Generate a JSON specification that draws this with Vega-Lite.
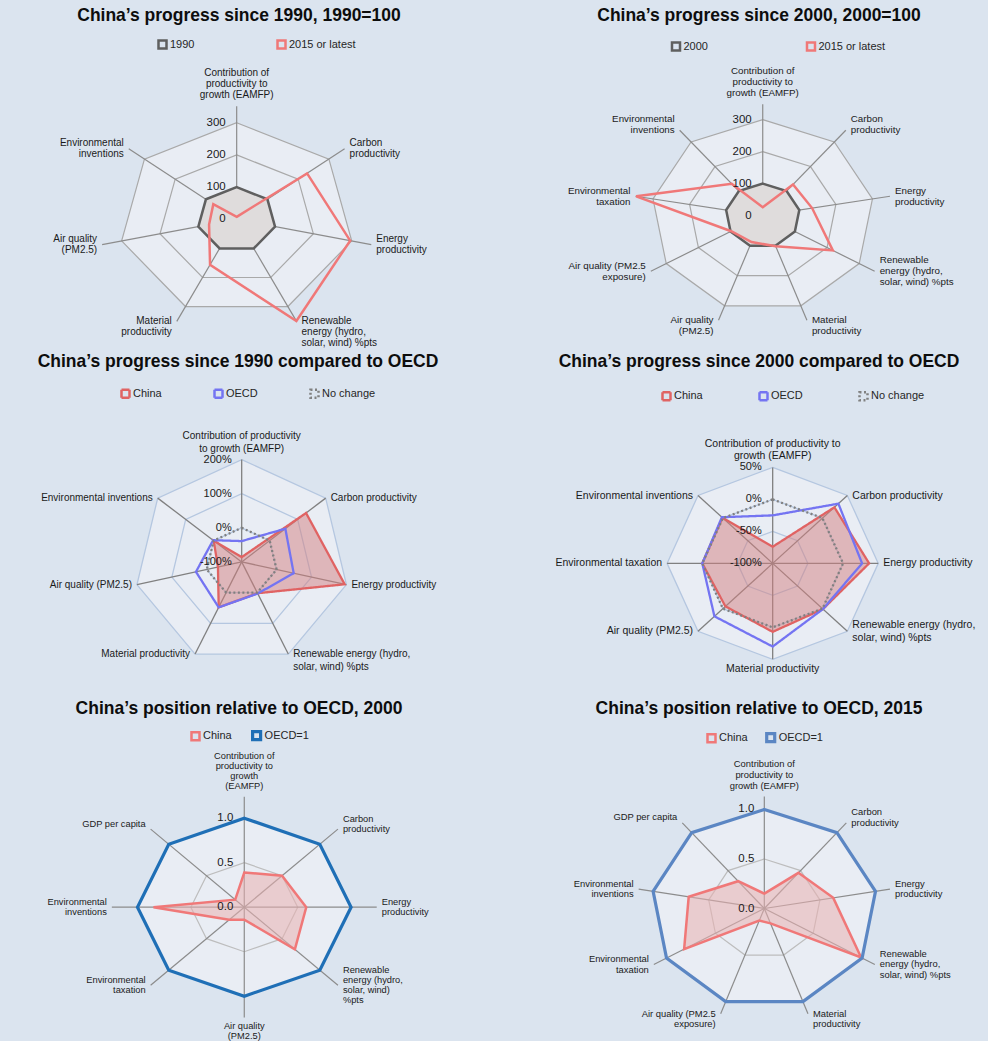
{
"$schema":"https://vega.github.io/schema/vega-lite/v6.json",
"background":"#dbe4ef",
"padding":{"top":6.3,"left":0,"right":0,"bottom":0},
"spacing":0,
"config":{
 "view":{"stroke":null},
 "concat":{"spacing":0},
 "title":{"font":"Liberation Sans","fontSize":17.5,"fontWeight":"bold","color":"#0d0d0d","anchor":"middle","frame":"group","offset":1},
 "text":{"font":"Liberation Sans","color":"#1a1a1a"},
 "legend":{"orient":"none","direction":"horizontal","labelFont":"Liberation Sans","labelFontSize":11,"labelColor":"#262626","symbolType":"square","symbolSize":64,"symbolStrokeWidth":2.5,"padding":0,"labelOffset":2}
},
"resolve":{"scale":{"color":"independent","strokeDash":"independent","strokeWidth":"independent"},"legend":{"color":"independent","strokeDash":"independent"}},
"datasets":{
 "a1":[{"i":0,"label":"Contribution of\nproductivity to\ngrowth (EAMFP)"},{"i":1,"label":"Carbon\nproductivity"},{"i":2,"label":"Energy\nproductivity"},{"i":3,"label":"Renewable\nenergy (hydro,\nsolar, wind) %pts"},{"i":4,"label":"Material\nproductivity"},{"i":5,"label":"Air quality\n(PM2.5)"},{"i":6,"label":"Environmental\ninventions"}],
 "s1":[{"s":"1990","i":0,"v":100},{"s":"1990","i":1,"v":100},{"s":"1990","i":2,"v":100},{"s":"1990","i":3,"v":100},{"s":"1990","i":4,"v":100},{"s":"1990","i":5,"v":100},{"s":"1990","i":6,"v":100},
  {"s":"2015 or latest","i":0,"v":8},{"s":"2015 or latest","i":1,"v":229},{"s":"2015 or latest","i":2,"v":296},{"s":"2015 or latest","i":3,"v":350},{"s":"2015 or latest","i":4,"v":156},{"s":"2015 or latest","i":5,"v":72},{"s":"2015 or latest","i":6,"v":76}],
 "g1":[{"g":100,"i":0},{"g":100,"i":1},{"g":100,"i":2},{"g":100,"i":3},{"g":100,"i":4},{"g":100,"i":5},{"g":100,"i":6},
  {"g":200,"i":0},{"g":200,"i":1},{"g":200,"i":2},{"g":200,"i":3},{"g":200,"i":4},{"g":200,"i":5},{"g":200,"i":6},
  {"g":300,"i":0},{"g":300,"i":1},{"g":300,"i":2},{"g":300,"i":3},{"g":300,"i":4},{"g":300,"i":5},{"g":300,"i":6}],
 "t1":[{"g":0},{"g":100},{"g":200},{"g":300}],
 "a2":[{"i":0,"label":"Contribution of\nproductivity to\ngrowth (EAMFP)"},{"i":1,"label":"Carbon\nproductivity"},{"i":2,"label":"Energy\nproductivity"},{"i":3,"label":"Renewable\nenergy (hydro,\nsolar, wind) %pts"},{"i":4,"label":"Material\nproductivity"},{"i":5,"label":"Air quality\n(PM2.5)"},{"i":6,"label":"Air quality (PM2.5\nexposure)"},{"i":7,"label":"Environmental\ntaxation"},{"i":8,"label":"Environmental\ninventions"}],
 "s2":[{"s":"2000","i":0,"v":100},{"s":"2000","i":1,"v":100},{"s":"2000","i":2,"v":100},{"s":"2000","i":3,"v":100},{"s":"2000","i":4,"v":100},{"s":"2000","i":5,"v":100},{"s":"2000","i":6,"v":100},{"s":"2000","i":7,"v":100},{"s":"2000","i":8,"v":100},
  {"s":"2015 or latest","i":0,"v":26},{"s":"2015 or latest","i":1,"v":127},{"s":"2015 or latest","i":2,"v":135},{"s":"2015 or latest","i":3,"v":218},{"s":"2015 or latest","i":4,"v":102},{"s":"2015 or latest","i":5,"v":88},{"s":"2015 or latest","i":6,"v":98},{"s":"2015 or latest","i":7,"v":346},{"s":"2015 or latest","i":8,"v":130}],
 "g2":[{"g":100,"i":0},{"g":100,"i":1},{"g":100,"i":2},{"g":100,"i":3},{"g":100,"i":4},{"g":100,"i":5},{"g":100,"i":6},{"g":100,"i":7},{"g":100,"i":8},
  {"g":200,"i":0},{"g":200,"i":1},{"g":200,"i":2},{"g":200,"i":3},{"g":200,"i":4},{"g":200,"i":5},{"g":200,"i":6},{"g":200,"i":7},{"g":200,"i":8},
  {"g":300,"i":0},{"g":300,"i":1},{"g":300,"i":2},{"g":300,"i":3},{"g":300,"i":4},{"g":300,"i":5},{"g":300,"i":6},{"g":300,"i":7},{"g":300,"i":8}],
 "t2":[{"g":0},{"g":100},{"g":200},{"g":300}],
 "a3":[{"i":0,"label":"Contribution of productivity\nto growth (EAMFP)"},{"i":1,"label":"Carbon productivity"},{"i":2,"label":"Energy productivity"},{"i":3,"label":"Renewable energy (hydro,\nsolar, wind) %pts"},{"i":4,"label":"Material productivity"},{"i":5,"label":"Air quality (PM2.5)"},{"i":6,"label":"Environmental inventions"}],
 "s3":[{"s":"China","i":0,"v":-86},{"s":"China","i":1,"v":130},{"s":"China","i":2,"v":195},{"s":"China","i":3,"v":2},{"s":"China","i":4,"v":48},{"s":"China","i":5,"v":-32},{"s":"China","i":6,"v":0},
  {"s":"OECD","i":0,"v":-39},{"s":"OECD","i":1,"v":56},{"s":"OECD","i":2,"v":49},{"s":"OECD","i":3,"v":3},{"s":"OECD","i":4,"v":48},{"s":"OECD","i":5,"v":31},{"s":"OECD","i":6,"v":2},
  {"s":"No change","i":0,"v":0},{"s":"No change","i":1,"v":0},{"s":"No change","i":2,"v":0},{"s":"No change","i":3,"v":0},{"s":"No change","i":4,"v":0},{"s":"No change","i":5,"v":0},{"s":"No change","i":6,"v":0}],
 "g3":[{"g":0,"i":0},{"g":0,"i":1},{"g":0,"i":2},{"g":0,"i":3},{"g":0,"i":4},{"g":0,"i":5},{"g":0,"i":6},
  {"g":100,"i":0},{"g":100,"i":1},{"g":100,"i":2},{"g":100,"i":3},{"g":100,"i":4},{"g":100,"i":5},{"g":100,"i":6},
  {"g":200,"i":0},{"g":200,"i":1},{"g":200,"i":2},{"g":200,"i":3},{"g":200,"i":4},{"g":200,"i":5},{"g":200,"i":6}],
 "t3":[{"g":-100},{"g":0},{"g":100},{"g":200}],
 "a4":[{"i":0,"label":"Contribution of productivity to\ngrowth (EAMFP)"},{"i":1,"label":"Carbon productivity"},{"i":2,"label":"Energy productivity"},{"i":3,"label":"Renewable energy (hydro,\nsolar, wind) %pts"},{"i":4,"label":"Material productivity"},{"i":5,"label":"Air quality (PM2.5)"},{"i":6,"label":"Environmental taxation"},{"i":7,"label":"Environmental inventions"}],
 "s4":[{"s":"China","i":0,"v":-74},{"s":"China","i":1,"v":24},{"s":"China","i":2,"v":37},{"s":"China","i":3,"v":1},{"s":"China","i":4,"v":7},{"s":"China","i":5,"v":-5},{"s":"China","i":6,"v":0},{"s":"China","i":7,"v":1},
  {"s":"OECD","i":0,"v":-25},{"s":"OECD","i":1,"v":32},{"s":"OECD","i":2,"v":27},{"s":"OECD","i":3,"v":1},{"s":"OECD","i":4,"v":30},{"s":"OECD","i":5,"v":17},{"s":"OECD","i":6,"v":0},{"s":"OECD","i":7,"v":2},
  {"s":"No change","i":0,"v":0},{"s":"No change","i":1,"v":0},{"s":"No change","i":2,"v":0},{"s":"No change","i":3,"v":0},{"s":"No change","i":4,"v":0},{"s":"No change","i":5,"v":0},{"s":"No change","i":6,"v":0},{"s":"No change","i":7,"v":0}],
 "g4":[{"g":-50,"i":0},{"g":-50,"i":1},{"g":-50,"i":2},{"g":-50,"i":3},{"g":-50,"i":4},{"g":-50,"i":5},{"g":-50,"i":6},{"g":-50,"i":7},
  {"g":0,"i":0},{"g":0,"i":1},{"g":0,"i":2},{"g":0,"i":3},{"g":0,"i":4},{"g":0,"i":5},{"g":0,"i":6},{"g":0,"i":7},
  {"g":50,"i":0},{"g":50,"i":1},{"g":50,"i":2},{"g":50,"i":3},{"g":50,"i":4},{"g":50,"i":5},{"g":50,"i":6},{"g":50,"i":7}],
 "t4":[{"g":-100},{"g":-50},{"g":0},{"g":50}],
 "a5":[{"i":0,"label":"Contribution of\nproductivity to\ngrowth\n(EAMFP)"},{"i":1,"label":"Carbon\nproductivity"},{"i":2,"label":"Energy\nproductivity"},{"i":3,"label":"Renewable\nenergy (hydro,\nsolar, wind)\n%pts"},{"i":4,"label":"Air quality\n(PM2.5)"},{"i":5,"label":"Environmental\ntaxation"},{"i":6,"label":"Environmental\ninventions"},{"i":7,"label":"GDP per capita"}],
 "s5":[{"s":"China","i":0,"v":0.39},{"s":"China","i":1,"v":0.5},{"s":"China","i":2,"v":0.58},{"s":"China","i":3,"v":0.67},{"s":"China","i":4,"v":0.14},{"s":"China","i":5,"v":0.2},{"s":"China","i":6,"v":0.85},{"s":"China","i":7,"v":0.12},
  {"s":"OECD=1","i":0,"v":1},{"s":"OECD=1","i":1,"v":1},{"s":"OECD=1","i":2,"v":1},{"s":"OECD=1","i":3,"v":1},{"s":"OECD=1","i":4,"v":1},{"s":"OECD=1","i":5,"v":1},{"s":"OECD=1","i":6,"v":1},{"s":"OECD=1","i":7,"v":1}],
 "g5":[{"g":0.5,"i":0},{"g":0.5,"i":1},{"g":0.5,"i":2},{"g":0.5,"i":3},{"g":0.5,"i":4},{"g":0.5,"i":5},{"g":0.5,"i":6},{"g":0.5,"i":7},
  {"g":1,"i":0},{"g":1,"i":1},{"g":1,"i":2},{"g":1,"i":3},{"g":1,"i":4},{"g":1,"i":5},{"g":1,"i":6},{"g":1,"i":7}],
 "t5":[{"g":0},{"g":0.5},{"g":1}],
 "a6":[{"i":0,"label":"Contribution of\nproductivity to\ngrowth (EAMFP)"},{"i":1,"label":"Carbon\nproductivity"},{"i":2,"label":"Energy\nproductivity"},{"i":3,"label":"Renewable\nenergy (hydro,\nsolar, wind) %pts"},{"i":4,"label":"Material\nproductivity"},{"i":5,"label":"Air quality (PM2.5\nexposure)"},{"i":6,"label":"Environmental\ntaxation"},{"i":7,"label":"Environmental\ninventions"},{"i":8,"label":"GDP per capita"}],
 "s6":[{"s":"China","i":0,"v":0.15},{"s":"China","i":1,"v":0.47},{"s":"China","i":2,"v":0.62},{"s":"China","i":3,"v":0.99},{"s":"China","i":4,"v":0.16},{"s":"China","i":5,"v":0.13},{"s":"China","i":6,"v":0.82},{"s":"China","i":7,"v":0.68},{"s":"China","i":8,"v":0.36},
  {"s":"OECD=1","i":0,"v":1},{"s":"OECD=1","i":1,"v":1},{"s":"OECD=1","i":2,"v":1},{"s":"OECD=1","i":3,"v":1},{"s":"OECD=1","i":4,"v":1},{"s":"OECD=1","i":5,"v":1},{"s":"OECD=1","i":6,"v":1},{"s":"OECD=1","i":7,"v":1},{"s":"OECD=1","i":8,"v":1}],
 "g6":[{"g":0.5,"i":0},{"g":0.5,"i":1},{"g":0.5,"i":2},{"g":0.5,"i":3},{"g":0.5,"i":4},{"g":0.5,"i":5},{"g":0.5,"i":6},{"g":0.5,"i":7},{"g":0.5,"i":8},
  {"g":1,"i":0},{"g":1,"i":1},{"g":1,"i":2},{"g":1,"i":3},{"g":1,"i":4},{"g":1,"i":5},{"g":1,"i":6},{"g":1,"i":7},{"g":1,"i":8}],
 "t6":[{"g":0},{"g":0.5},{"g":1}]
},
"vconcat":[
{"hconcat":[
 {"width":494,"height":326.6,
  "title":{"text":"China’s progress since 1990, 1990=100","dx":-8},
  "encoding":{"x":{"field":"x","type":"quantitative","scale":{"domain":[-2.006,2.181],"nice":false,"zero":false},"axis":null},
              "y":{"field":"y","type":"quantitative","scale":{"domain":[-1.370,2.007],"nice":false,"zero":false},"axis":null}},
  "layer":[
   {"data":{"name":"g1"},"transform":[{"filter":"datum.g==300"},{"calculate":"datum.g/300*sin(2*PI*datum.i/7)","as":"x"},{"calculate":"datum.g/300*cos(2*PI*datum.i/7)","as":"y"}],
    "mark":{"type":"line","interpolate":"linear-closed","fill":"#e9edf4","strokeWidth":0},"encoding":{"order":{"field":"i"}}},
   {"data":{"name":"g1"},"transform":[{"calculate":"datum.g/300*sin(2*PI*datum.i/7)","as":"x"},{"calculate":"datum.g/300*cos(2*PI*datum.i/7)","as":"y"}],
    "mark":{"type":"line","interpolate":"linear-closed","stroke":"#a9a9a9","strokeWidth":1.2},"encoding":{"order":{"field":"i"},"detail":{"field":"g"}}},
   {"data":{"name":"a1"},"transform":[{"calculate":"1.17*sin(2*PI*datum.i/7)","as":"x"},{"calculate":"1.17*cos(2*PI*datum.i/7)","as":"y"}],
    "mark":{"type":"rule","stroke":"#8c8c8c","strokeWidth":1.2},"encoding":{"x2":{"datum":0},"y2":{"datum":0}}},
   {"data":{"name":"s1"},"transform":[{"filter":"datum.s=='1990'"},{"calculate":"datum.v/300*sin(2*PI*datum.i/7)","as":"x"},{"calculate":"datum.v/300*cos(2*PI*datum.i/7)","as":"y"}],
    "mark":{"type":"line","interpolate":"linear-closed","fill":"#dfdcdc","strokeWidth":0},"encoding":{"order":{"field":"i"}}},
   {"data":{"name":"s1"},"transform":[{"calculate":"datum.v/300*sin(2*PI*datum.i/7)","as":"x"},{"calculate":"datum.v/300*cos(2*PI*datum.i/7)","as":"y"}],
    "mark":{"type":"line","interpolate":"linear-closed","strokeWidth":2.5},
    "encoding":{"order":{"field":"i"},"color":{"field":"s","type":"nominal","scale":{"domain":["1990","2015 or latest"],"range":["#5f5f5f","#f07878"]},"legend":{"title":null,"orient":"none","legendX":157,"legendY":13.5,"columnPadding":77}}}},
   {"data":{"name":"t1"},"transform":[{"calculate":"0","as":"x"},{"calculate":"datum.g/300","as":"y"}],
    "mark":{"type":"text","align":"right","baseline":"middle","dx":-11,"fontSize":11.5},"encoding":{"text":{"field":"g","type":"quantitative","format":"d"}}},
   {"data":{"name":"a1"},"transform":[{"calculate":"sin(2*PI*datum.i/7)","as":"sx"},{"calculate":"cos(2*PI*datum.i/7)","as":"cx"},{"calculate":"length(replace(datum.label,/[^\\n]/g,''))","as":"nl"},{"filter":"datum.sx>0.05"},{"calculate":"1.17*datum.sx","as":"x"},{"calculate":"1.17*datum.cx+(datum.cx>0.7?datum.nl:datum.cx<-0.8?0:datum.nl/2)*0.1138","as":"y"}],
    "mark":{"type":"text","align":"left","baseline":"middle","dx":5,"fontSize":10,"lineHeight":11,"lineBreak":"\n"},"encoding":{"text":{"field":"label","type":"nominal"}}},
   {"data":{"name":"a1"},"transform":[{"calculate":"sin(2*PI*datum.i/7)","as":"sx"},{"calculate":"cos(2*PI*datum.i/7)","as":"cx"},{"calculate":"length(replace(datum.label,/[^\\n]/g,''))","as":"nl"},{"filter":"datum.sx<-0.05"},{"calculate":"1.17*datum.sx","as":"x"},{"calculate":"1.17*datum.cx+(datum.cx>0.7?datum.nl:datum.cx<-0.8?0:datum.nl/2)*0.1138","as":"y"}],
    "mark":{"type":"text","align":"right","baseline":"middle","dx":-5,"fontSize":10,"lineHeight":11,"lineBreak":"\n"},"encoding":{"text":{"field":"label","type":"nominal"}}},
   {"data":{"name":"a1"},"transform":[{"calculate":"sin(2*PI*datum.i/7)","as":"sx"},{"calculate":"cos(2*PI*datum.i/7)","as":"cx"},{"calculate":"length(replace(datum.label,/[^\\n]/g,''))","as":"nl"},{"filter":"abs(datum.sx)<=0.05"},{"calculate":"1.17*datum.sx","as":"x"},{"calculate":"1.17*datum.cx+datum.nl*0.1138","as":"y"}],
    "mark":{"type":"text","align":"center","baseline":"bottom","dy":-6,"fontSize":10,"lineHeight":11,"lineBreak":"\n"},"encoding":{"text":{"field":"label","type":"nominal"}}}
  ]},
 {"width":494,"height":326.6,
  "title":{"text":"China’s progress since 2000, 2000=100","dx":18},
  "encoding":{"x":{"field":"x","type":"quantitative","scale":{"domain":[-2.412,2.022],"nice":false,"zero":false},"axis":null},
              "y":{"field":"y","type":"quantitative","scale":{"domain":[-1.420,1.982],"nice":false,"zero":false},"axis":null}},
  "layer":[
   {"data":{"name":"g2"},"transform":[{"filter":"datum.g==300"},{"calculate":"datum.g/300*sin(2*PI*datum.i/9)","as":"x"},{"calculate":"datum.g/300*cos(2*PI*datum.i/9)","as":"y"}],
    "mark":{"type":"line","interpolate":"linear-closed","fill":"#e9edf4","strokeWidth":0},"encoding":{"order":{"field":"i"}}},
   {"data":{"name":"g2"},"transform":[{"calculate":"datum.g/300*sin(2*PI*datum.i/9)","as":"x"},{"calculate":"datum.g/300*cos(2*PI*datum.i/9)","as":"y"}],
    "mark":{"type":"line","interpolate":"linear-closed","stroke":"#a9a9a9","strokeWidth":1.2},"encoding":{"order":{"field":"i"},"detail":{"field":"g"}}},
   {"data":{"name":"a2"},"transform":[{"calculate":"1.16*sin(2*PI*datum.i/9)","as":"x"},{"calculate":"1.16*cos(2*PI*datum.i/9)","as":"y"}],
    "mark":{"type":"rule","stroke":"#8c8c8c","strokeWidth":1.2},"encoding":{"x2":{"datum":0},"y2":{"datum":0}}},
   {"data":{"name":"s2"},"transform":[{"filter":"datum.s=='2000'"},{"calculate":"datum.v/300*sin(2*PI*datum.i/9)","as":"x"},{"calculate":"datum.v/300*cos(2*PI*datum.i/9)","as":"y"}],
    "mark":{"type":"line","interpolate":"linear-closed","fill":"#dfdcdc","strokeWidth":0},"encoding":{"order":{"field":"i"}}},
   {"data":{"name":"s2"},"transform":[{"calculate":"datum.v/300*sin(2*PI*datum.i/9)","as":"x"},{"calculate":"datum.v/300*cos(2*PI*datum.i/9)","as":"y"}],
    "mark":{"type":"line","interpolate":"linear-closed","strokeWidth":2.5},
    "encoding":{"order":{"field":"i"},"color":{"field":"s","type":"nominal","scale":{"domain":["2000","2015 or latest"],"range":["#5f5f5f","#f07878"]},"legend":{"title":null,"orient":"none","legendX":176.5,"legendY":15.5,"columnPadding":93}}}},
   {"data":{"name":"t2"},"transform":[{"calculate":"0","as":"x"},{"calculate":"datum.g/300","as":"y"}],
    "mark":{"type":"text","align":"right","baseline":"middle","dx":-11,"fontSize":11.5},"encoding":{"text":{"field":"g","type":"quantitative","format":"d"}}},
   {"data":{"name":"a2"},"transform":[{"calculate":"sin(2*PI*datum.i/9)","as":"sx"},{"calculate":"cos(2*PI*datum.i/9)","as":"cx"},{"calculate":"length(replace(datum.label,/[^\\n]/g,''))","as":"nl"},{"filter":"datum.sx>0.05"},{"calculate":"1.16*datum.sx","as":"x"},{"calculate":"1.16*datum.cx+(datum.cx>0.7?datum.nl:datum.cx<-0.8?0:datum.nl/2)*0.1146","as":"y"}],
    "mark":{"type":"text","align":"left","baseline":"middle","dx":5,"fontSize":9.8,"lineHeight":11,"lineBreak":"\n"},"encoding":{"text":{"field":"label","type":"nominal"}}},
   {"data":{"name":"a2"},"transform":[{"calculate":"sin(2*PI*datum.i/9)","as":"sx"},{"calculate":"cos(2*PI*datum.i/9)","as":"cx"},{"calculate":"length(replace(datum.label,/[^\\n]/g,''))","as":"nl"},{"filter":"datum.sx<-0.05"},{"calculate":"1.16*datum.sx","as":"x"},{"calculate":"1.16*datum.cx+(datum.cx>0.7?datum.nl:datum.cx<-0.8?0:datum.nl/2)*0.1146","as":"y"}],
    "mark":{"type":"text","align":"right","baseline":"middle","dx":-5,"fontSize":9.8,"lineHeight":11,"lineBreak":"\n"},"encoding":{"text":{"field":"label","type":"nominal"}}},
   {"data":{"name":"a2"},"transform":[{"calculate":"sin(2*PI*datum.i/9)","as":"sx"},{"calculate":"cos(2*PI*datum.i/9)","as":"cx"},{"calculate":"length(replace(datum.label,/[^\\n]/g,''))","as":"nl"},{"filter":"abs(datum.sx)<=0.05"},{"calculate":"1.16*datum.sx","as":"x"},{"calculate":"1.16*datum.cx+datum.nl*0.1146","as":"y"}],
    "mark":{"type":"text","align":"center","baseline":"bottom","dy":-6,"fontSize":9.8,"lineHeight":11,"lineBreak":"\n"},"encoding":{"text":{"field":"label","type":"nominal"}}}
  ]}
],"resolve":{"scale":{"color":"independent"},"legend":{"color":"independent"}}},
{"hconcat":[
 {"width":494,"height":328,
  "title":{"text":"China’s progress since 1990 compared to OECD","dx":-9},
  "encoding":{"x":{"field":"x","type":"quantitative","scale":{"domain":[-2.250,2.349],"nice":false,"zero":false},"axis":null},
              "y":{"field":"y","type":"quantitative","scale":{"domain":[-1.343,1.863],"nice":false,"zero":false},"axis":null}},
  "layer":[
   {"data":{"name":"g3"},"transform":[{"filter":"datum.g==200"},{"calculate":"(datum.g+100)/300*sin(2*PI*datum.i/7)","as":"x"},{"calculate":"(datum.g+100)/300*cos(2*PI*datum.i/7)","as":"y"}],
    "mark":{"type":"line","interpolate":"linear-closed","fill":"#e9edf4","strokeWidth":0},"encoding":{"order":{"field":"i"}}},
   {"data":{"name":"g3"},"transform":[{"calculate":"(datum.g+100)/300*sin(2*PI*datum.i/7)","as":"x"},{"calculate":"(datum.g+100)/300*cos(2*PI*datum.i/7)","as":"y"}],
    "mark":{"type":"line","interpolate":"linear-closed","stroke":"#b5c7e0","strokeWidth":1.3},"encoding":{"order":{"field":"i"},"detail":{"field":"g"}}},
   {"data":{"name":"a3"},"transform":[{"calculate":"sin(2*PI*datum.i/7)","as":"x"},{"calculate":"cos(2*PI*datum.i/7)","as":"y"}],
    "mark":{"type":"rule","stroke":"#808080","strokeWidth":1.3},"encoding":{"x2":{"datum":0},"y2":{"datum":0}}},
   {"data":{"name":"s3"},"transform":[{"filter":"datum.s=='China'"},{"calculate":"(datum.v+100)/300*sin(2*PI*datum.i/7)","as":"x"},{"calculate":"(datum.v+100)/300*cos(2*PI*datum.i/7)","as":"y"}],
    "mark":{"type":"line","interpolate":"linear-closed","fill":"#d48080","fillOpacity":0.5,"strokeWidth":0},"encoding":{"order":{"field":"i"}}},
   {"data":{"name":"s3"},"transform":[{"calculate":"(datum.v+100)/300*sin(2*PI*datum.i/7)","as":"x"},{"calculate":"(datum.v+100)/300*cos(2*PI*datum.i/7)","as":"y"}],
    "mark":{"type":"line","interpolate":"linear-closed","strokeWidth":2.3},
    "encoding":{"order":{"field":"i"},
     "color":{"field":"s","type":"nominal","scale":{"domain":["China","OECD","No change"],"range":["#e06363","#7474f2","#808080"]},"legend":{"title":null,"orient":"none","legendX":120,"legendY":16.8,"columnPadding":47}},
     "strokeDash":{"field":"s","type":"nominal","scale":{"domain":["China","OECD","No change"],"range":[[1,0],[1,0],[2,2.5]]},"legend":{"title":null,"orient":"none","legendX":120,"legendY":16.8,"columnPadding":47}}}},
   {"data":{"name":"t3"},"transform":[{"calculate":"0","as":"x"},{"calculate":"(datum.g+100)/300","as":"y"},{"calculate":"datum.g+'%'","as":"lab"}],
    "mark":{"type":"text","align":"right","baseline":"middle","dx":-10,"fontSize":11},"encoding":{"text":{"field":"lab","type":"nominal"}}},
   {"data":{"name":"a3"},"transform":[{"calculate":"sin(2*PI*datum.i/7)","as":"sx"},{"calculate":"cos(2*PI*datum.i/7)","as":"cx"},{"calculate":"length(replace(datum.label,/[^\\n]/g,''))","as":"nl"},{"filter":"datum.sx>0.05"},{"calculate":"datum.sx","as":"x"},{"calculate":"datum.cx+(datum.cx>0.7?datum.nl:datum.cx<-0.8?0:datum.nl/2)*0.1241","as":"y"}],
    "mark":{"type":"text","align":"left","baseline":"middle","dx":5,"fontSize":10,"lineHeight":12.7,"lineBreak":"\n"},"encoding":{"text":{"field":"label","type":"nominal"}}},
   {"data":{"name":"a3"},"transform":[{"calculate":"sin(2*PI*datum.i/7)","as":"sx"},{"calculate":"cos(2*PI*datum.i/7)","as":"cx"},{"calculate":"length(replace(datum.label,/[^\\n]/g,''))","as":"nl"},{"filter":"datum.sx<-0.05"},{"calculate":"datum.sx","as":"x"},{"calculate":"datum.cx+(datum.cx>0.7?datum.nl:datum.cx<-0.8?0:datum.nl/2)*0.1241","as":"y"}],
    "mark":{"type":"text","align":"right","baseline":"middle","dx":-5,"fontSize":10,"lineHeight":12.7,"lineBreak":"\n"},"encoding":{"text":{"field":"label","type":"nominal"}}},
   {"data":{"name":"a3"},"transform":[{"calculate":"sin(2*PI*datum.i/7)","as":"sx"},{"calculate":"cos(2*PI*datum.i/7)","as":"cx"},{"calculate":"length(replace(datum.label,/[^\\n]/g,''))","as":"nl"},{"filter":"abs(datum.sx)<=0.05"},{"calculate":"datum.sx","as":"x"},{"calculate":"datum.cx+datum.nl*0.1241","as":"y"}],
    "mark":{"type":"text","align":"center","baseline":"bottom","dy":-6,"fontSize":10,"lineHeight":12.7,"lineBreak":"\n"},"encoding":{"text":{"field":"label","type":"nominal"}}}
  ]},
 {"width":494,"height":328,
  "title":{"text":"China’s progress since 2000 compared to OECD","dx":18},
  "encoding":{"x":{"field":"x","type":"quantitative","scale":{"domain":[-2.639,2.039],"nice":false,"zero":false},"axis":null},
              "y":{"field":"y","type":"quantitative","scale":{"domain":[-1.416,2.001],"nice":false,"zero":false},"axis":null}},
  "layer":[
   {"data":{"name":"g4"},"transform":[{"filter":"datum.g==50"},{"calculate":"(datum.g+100)/150*sin(2*PI*datum.i/8)","as":"x"},{"calculate":"(datum.g+100)/150*cos(2*PI*datum.i/8)","as":"y"}],
    "mark":{"type":"line","interpolate":"linear-closed","fill":"#e9edf4","strokeWidth":0},"encoding":{"order":{"field":"i"}}},
   {"data":{"name":"g4"},"transform":[{"calculate":"(datum.g+100)/150*sin(2*PI*datum.i/8)","as":"x"},{"calculate":"(datum.g+100)/150*cos(2*PI*datum.i/8)","as":"y"}],
    "mark":{"type":"line","interpolate":"linear-closed","stroke":"#b5c7e0","strokeWidth":1.3},"encoding":{"order":{"field":"i"},"detail":{"field":"g"}}},
   {"data":{"name":"a4"},"transform":[{"calculate":"sin(2*PI*datum.i/8)","as":"x"},{"calculate":"cos(2*PI*datum.i/8)","as":"y"}],
    "mark":{"type":"rule","stroke":"#808080","strokeWidth":1.3},"encoding":{"x2":{"datum":0},"y2":{"datum":0}}},
   {"data":{"name":"s4"},"transform":[{"filter":"datum.s=='China'"},{"calculate":"(datum.v+100)/150*sin(2*PI*datum.i/8)","as":"x"},{"calculate":"(datum.v+100)/150*cos(2*PI*datum.i/8)","as":"y"}],
    "mark":{"type":"line","interpolate":"linear-closed","fill":"#d48080","fillOpacity":0.5,"strokeWidth":0},"encoding":{"order":{"field":"i"}}},
   {"data":{"name":"s4"},"transform":[{"calculate":"(datum.v+100)/150*sin(2*PI*datum.i/8)","as":"x"},{"calculate":"(datum.v+100)/150*cos(2*PI*datum.i/8)","as":"y"}],
    "mark":{"type":"line","interpolate":"linear-closed","strokeWidth":2.3},
    "encoding":{"order":{"field":"i"},
     "color":{"field":"s","type":"nominal","scale":{"domain":["China","OECD","No change"],"range":["#e06363","#7474f2","#808080"]},"legend":{"title":null,"orient":"none","legendX":167,"legendY":19.1,"columnPadding":51}},
     "strokeDash":{"field":"s","type":"nominal","scale":{"domain":["China","OECD","No change"],"range":[[1,0],[1,0],[2,2.5]]},"legend":{"title":null,"orient":"none","legendX":167,"legendY":19.1,"columnPadding":51}}}},
   {"data":{"name":"t4"},"transform":[{"calculate":"0","as":"x"},{"calculate":"(datum.g+100)/150","as":"y"},{"calculate":"datum.g+'%'","as":"lab"}],
    "mark":{"type":"text","align":"right","baseline":"middle","dx":-11,"fontSize":11},"encoding":{"text":{"field":"lab","type":"nominal"}}},
   {"data":{"name":"a4"},"transform":[{"calculate":"sin(2*PI*datum.i/8)","as":"sx"},{"calculate":"cos(2*PI*datum.i/8)","as":"cx"},{"calculate":"length(replace(datum.label,/[^\\n]/g,''))","as":"nl"},{"filter":"datum.sx>0.05"},{"calculate":"datum.sx","as":"x"},{"calculate":"datum.cx+(datum.cx>0.72?datum.nl:datum.cx<-0.8?0:datum.nl/2)*0.1323","as":"y"}],
    "mark":{"type":"text","align":"left","baseline":"middle","dx":5,"fontSize":10.5,"lineHeight":12.7,"lineBreak":"\n"},"encoding":{"text":{"field":"label","type":"nominal"}}},
   {"data":{"name":"a4"},"transform":[{"calculate":"sin(2*PI*datum.i/8)","as":"sx"},{"calculate":"cos(2*PI*datum.i/8)","as":"cx"},{"calculate":"length(replace(datum.label,/[^\\n]/g,''))","as":"nl"},{"filter":"datum.sx<-0.05"},{"calculate":"datum.sx","as":"x"},{"calculate":"datum.cx+(datum.cx>0.72?datum.nl:datum.cx<-0.8?0:datum.nl/2)*0.1323","as":"y"}],
    "mark":{"type":"text","align":"right","baseline":"middle","dx":-5,"fontSize":10.5,"lineHeight":12.7,"lineBreak":"\n"},"encoding":{"text":{"field":"label","type":"nominal"}}},
   {"data":{"name":"a4"},"transform":[{"calculate":"sin(2*PI*datum.i/8)","as":"sx"},{"calculate":"cos(2*PI*datum.i/8)","as":"cx"},{"calculate":"length(replace(datum.label,/[^\\n]/g,''))","as":"nl"},{"filter":"abs(datum.sx)<=0.05 && datum.cx>0"},{"calculate":"datum.sx","as":"x"},{"calculate":"datum.cx+datum.nl*0.1323","as":"y"}],
    "mark":{"type":"text","align":"center","baseline":"bottom","dy":-6,"fontSize":10.5,"lineHeight":12.7,"lineBreak":"\n"},"encoding":{"text":{"field":"label","type":"nominal"}}},
   {"data":{"name":"a4"},"transform":[{"calculate":"sin(2*PI*datum.i/8)","as":"sx"},{"calculate":"cos(2*PI*datum.i/8)","as":"cx"},{"filter":"abs(datum.sx)<=0.05 && datum.cx<0"},{"calculate":"datum.sx","as":"x"},{"calculate":"datum.cx","as":"y"}],
    "mark":{"type":"text","align":"center","baseline":"top","dy":5,"fontSize":10.5,"lineHeight":12.7,"lineBreak":"\n"},"encoding":{"text":{"field":"label","type":"nominal"}}}
  ]}
],"resolve":{"scale":{"color":"independent","strokeDash":"independent"},"legend":{"color":"independent","strokeDash":"independent"}}},
{"hconcat":[
 {"width":494,"height":321.9,
  "title":{"text":"China’s position relative to OECD, 2000","dx":-8},
  "encoding":{"x":{"field":"x","type":"quantitative","scale":{"domain":[-2.287,2.338],"nice":false,"zero":false},"axis":null},
              "y":{"field":"y","type":"quantitative","scale":{"domain":[-1.494,2.122],"nice":false,"zero":false},"axis":null}},
  "layer":[
   {"data":{"name":"g5"},"transform":[{"filter":"datum.g==1"},{"calculate":"datum.g*sin(2*PI*datum.i/8)","as":"x"},{"calculate":"datum.g*cos(2*PI*datum.i/8)","as":"y"}],
    "mark":{"type":"line","interpolate":"linear-closed","fill":"#e9edf4","strokeWidth":0},"encoding":{"order":{"field":"i"}}},
   {"data":{"name":"g5"},"transform":[{"filter":"datum.g==0.5"},{"calculate":"datum.g*sin(2*PI*datum.i/8)","as":"x"},{"calculate":"datum.g*cos(2*PI*datum.i/8)","as":"y"}],
    "mark":{"type":"line","interpolate":"linear-closed","stroke":"#bdbdbd","strokeWidth":1.2},"encoding":{"order":{"field":"i"},"detail":{"field":"g"}}},
   {"data":{"name":"a5"},"transform":[{"calculate":"1.24*sin(2*PI*datum.i/8)","as":"x"},{"calculate":"1.24*cos(2*PI*datum.i/8)","as":"y"}],
    "mark":{"type":"rule","stroke":"#8c8c8c","strokeWidth":1.2},"encoding":{"x2":{"datum":0},"y2":{"datum":0}}},
   {"data":{"name":"s5"},"transform":[{"filter":"datum.s=='China'"},{"calculate":"datum.v*sin(2*PI*datum.i/8)","as":"x"},{"calculate":"datum.v*cos(2*PI*datum.i/8)","as":"y"}],
    "mark":{"type":"line","interpolate":"linear-closed","fill":"#eab0b0","fillOpacity":0.55,"strokeWidth":0},"encoding":{"order":{"field":"i"}}},
   {"data":{"name":"s5"},"transform":[{"calculate":"datum.v*sin(2*PI*datum.i/8)","as":"x"},{"calculate":"datum.v*cos(2*PI*datum.i/8)","as":"y"}],
    "mark":{"type":"line","interpolate":"linear-closed"},
    "encoding":{"order":{"field":"i"},
     "color":{"field":"s","type":"nominal","scale":{"domain":["China","OECD=1"],"range":["#f07878","#1f6fb6"]},"legend":{"title":null,"orient":"none","legendX":190,"legendY":11.1,"columnPadding":13.6}},
     "strokeWidth":{"field":"s","type":"nominal","scale":{"domain":["China","OECD=1"],"range":[2.5,3.2]},"legend":null}}},
   {"data":{"name":"t5"},"transform":[{"calculate":"0","as":"x"},{"calculate":"datum.g","as":"y"}],
    "mark":{"type":"text","align":"right","baseline":"middle","dx":-11,"fontSize":11.5},"encoding":{"text":{"field":"g","type":"quantitative","format":".1f"}}},
   {"data":{"name":"a5"},"transform":[{"calculate":"sin(2*PI*datum.i/8)","as":"sx"},{"calculate":"cos(2*PI*datum.i/8)","as":"cx"},{"calculate":"length(replace(datum.label,/[^\\n]/g,''))","as":"nl"},{"filter":"datum.sx>0.05"},{"calculate":"1.24*datum.sx","as":"x"},{"calculate":"1.24*datum.cx+(datum.cx>0.7?datum.nl:datum.cx<-0.8?0:datum.nl/2)*0.1124","as":"y"}],
    "mark":{"type":"text","align":"left","baseline":"middle","dx":5,"fontSize":9.3,"lineHeight":10,"lineBreak":"\n"},"encoding":{"text":{"field":"label","type":"nominal"}}},
   {"data":{"name":"a5"},"transform":[{"calculate":"sin(2*PI*datum.i/8)","as":"sx"},{"calculate":"cos(2*PI*datum.i/8)","as":"cx"},{"calculate":"length(replace(datum.label,/[^\\n]/g,''))","as":"nl"},{"filter":"datum.sx<-0.05"},{"calculate":"1.24*datum.sx","as":"x"},{"calculate":"1.24*datum.cx+(datum.cx>0.7?0.5:datum.cx<-0.8?0:datum.nl/2)*0.1124","as":"y"}],
    "mark":{"type":"text","align":"right","baseline":"middle","dx":-5,"fontSize":9.3,"lineHeight":10,"lineBreak":"\n"},"encoding":{"text":{"field":"label","type":"nominal"}}},
   {"data":{"name":"a5"},"transform":[{"calculate":"sin(2*PI*datum.i/8)","as":"sx"},{"calculate":"cos(2*PI*datum.i/8)","as":"cx"},{"calculate":"length(replace(datum.label,/[^\\n]/g,''))","as":"nl"},{"filter":"abs(datum.sx)<=0.05 && datum.cx>0"},{"calculate":"1.24*datum.sx","as":"x"},{"calculate":"1.24*datum.cx+datum.nl*0.1124","as":"y"}],
    "mark":{"type":"text","align":"center","baseline":"bottom","dy":-6,"fontSize":9.3,"lineHeight":10,"lineBreak":"\n"},"encoding":{"text":{"field":"label","type":"nominal"}}},
   {"data":{"name":"a5"},"transform":[{"calculate":"sin(2*PI*datum.i/8)","as":"sx"},{"calculate":"cos(2*PI*datum.i/8)","as":"cx"},{"filter":"abs(datum.sx)<=0.05 && datum.cx<0"},{"calculate":"1.24*datum.sx","as":"x"},{"calculate":"1.24*datum.cx","as":"y"}],
    "mark":{"type":"text","align":"center","baseline":"top","dy":4,"fontSize":9.3,"lineHeight":10,"lineBreak":"\n"},"encoding":{"text":{"field":"label","type":"nominal"}}}
  ]},
 {"width":494,"height":321.9,
  "title":{"text":"China’s position relative to OECD, 2015","dx":18},
  "encoding":{"x":{"field":"x","type":"quantitative","scale":{"domain":[-2.394,1.981],"nice":false,"zero":false},"axis":null},
              "y":{"field":"y","type":"quantitative","scale":{"domain":[-1.330,1.921],"nice":false,"zero":false},"axis":null}},
  "layer":[
   {"data":{"name":"g6"},"transform":[{"filter":"datum.g==1"},{"calculate":"datum.g*sin(2*PI*datum.i/9)","as":"x"},{"calculate":"datum.g*cos(2*PI*datum.i/9)","as":"y"}],
    "mark":{"type":"line","interpolate":"linear-closed","fill":"#e9edf4","strokeWidth":0},"encoding":{"order":{"field":"i"}}},
   {"data":{"name":"g6"},"transform":[{"filter":"datum.g==0.5"},{"calculate":"datum.g*sin(2*PI*datum.i/9)","as":"x"},{"calculate":"datum.g*cos(2*PI*datum.i/9)","as":"y"}],
    "mark":{"type":"line","interpolate":"linear-closed","stroke":"#bdbdbd","strokeWidth":1.2},"encoding":{"order":{"field":"i"},"detail":{"field":"g"}}},
   {"data":{"name":"a6"},"transform":[{"calculate":"1.13*sin(2*PI*datum.i/9)","as":"x"},{"calculate":"1.13*cos(2*PI*datum.i/9)","as":"y"}],
    "mark":{"type":"rule","stroke":"#8c8c8c","strokeWidth":1.2},"encoding":{"x2":{"datum":0},"y2":{"datum":0}}},
   {"data":{"name":"s6"},"transform":[{"filter":"datum.s=='China'"},{"calculate":"datum.v*sin(2*PI*datum.i/9)","as":"x"},{"calculate":"datum.v*cos(2*PI*datum.i/9)","as":"y"}],
    "mark":{"type":"line","interpolate":"linear-closed","fill":"#eab0b0","fillOpacity":0.55,"strokeWidth":0},"encoding":{"order":{"field":"i"}}},
   {"data":{"name":"s6"},"transform":[{"calculate":"datum.v*sin(2*PI*datum.i/9)","as":"x"},{"calculate":"datum.v*cos(2*PI*datum.i/9)","as":"y"}],
    "mark":{"type":"line","interpolate":"linear-closed"},
    "encoding":{"order":{"field":"i"},
     "color":{"field":"s","type":"nominal","scale":{"domain":["China","OECD=1"],"range":["#f07878","#5b86c3"]},"legend":{"title":null,"orient":"none","legendX":212,"legendY":13.1,"columnPadding":11.7}},
     "strokeWidth":{"field":"s","type":"nominal","scale":{"domain":["China","OECD=1"],"range":[2.5,3.2]},"legend":null}}},
   {"data":{"name":"t6"},"transform":[{"calculate":"0","as":"x"},{"calculate":"datum.g","as":"y"}],
    "mark":{"type":"text","align":"right","baseline":"middle","dx":-10,"fontSize":11.5},"encoding":{"text":{"field":"g","type":"quantitative","format":".1f"}}},
   {"data":{"name":"a6"},"transform":[{"calculate":"sin(2*PI*datum.i/9)","as":"sx"},{"calculate":"cos(2*PI*datum.i/9)","as":"cx"},{"calculate":"length(replace(datum.label,/[^\\n]/g,''))","as":"nl"},{"filter":"datum.sx>0.05"},{"calculate":"1.13*datum.sx","as":"x"},{"calculate":"1.13*datum.cx+(datum.cx>0.7?datum.nl:datum.cx<-0.8?0:datum.nl/2)*0.1091","as":"y"}],
    "mark":{"type":"text","align":"left","baseline":"middle","dx":5,"fontSize":9.4,"lineHeight":10.8,"lineBreak":"\n"},"encoding":{"text":{"field":"label","type":"nominal"}}},
   {"data":{"name":"a6"},"transform":[{"calculate":"sin(2*PI*datum.i/9)","as":"sx"},{"calculate":"cos(2*PI*datum.i/9)","as":"cx"},{"calculate":"length(replace(datum.label,/[^\\n]/g,''))","as":"nl"},{"filter":"datum.sx<-0.05"},{"calculate":"1.13*datum.sx","as":"x"},{"calculate":"1.13*datum.cx+(datum.cx>0.7?0.5:datum.cx<-0.8?0:datum.nl/2)*0.1091","as":"y"}],
    "mark":{"type":"text","align":"right","baseline":"middle","dx":-5,"fontSize":9.4,"lineHeight":10.8,"lineBreak":"\n"},"encoding":{"text":{"field":"label","type":"nominal"}}},
   {"data":{"name":"a6"},"transform":[{"calculate":"sin(2*PI*datum.i/9)","as":"sx"},{"calculate":"cos(2*PI*datum.i/9)","as":"cx"},{"calculate":"length(replace(datum.label,/[^\\n]/g,''))","as":"nl"},{"filter":"abs(datum.sx)<=0.05"},{"calculate":"1.13*datum.sx","as":"x"},{"calculate":"1.13*datum.cx+datum.nl*0.1091","as":"y"}],
    "mark":{"type":"text","align":"center","baseline":"bottom","dy":-6,"fontSize":9.4,"lineHeight":10.8,"lineBreak":"\n"},"encoding":{"text":{"field":"label","type":"nominal"}}}
  ]}
],"resolve":{"scale":{"color":"independent","strokeWidth":"independent"},"legend":{"color":"independent"}}}
]
}
